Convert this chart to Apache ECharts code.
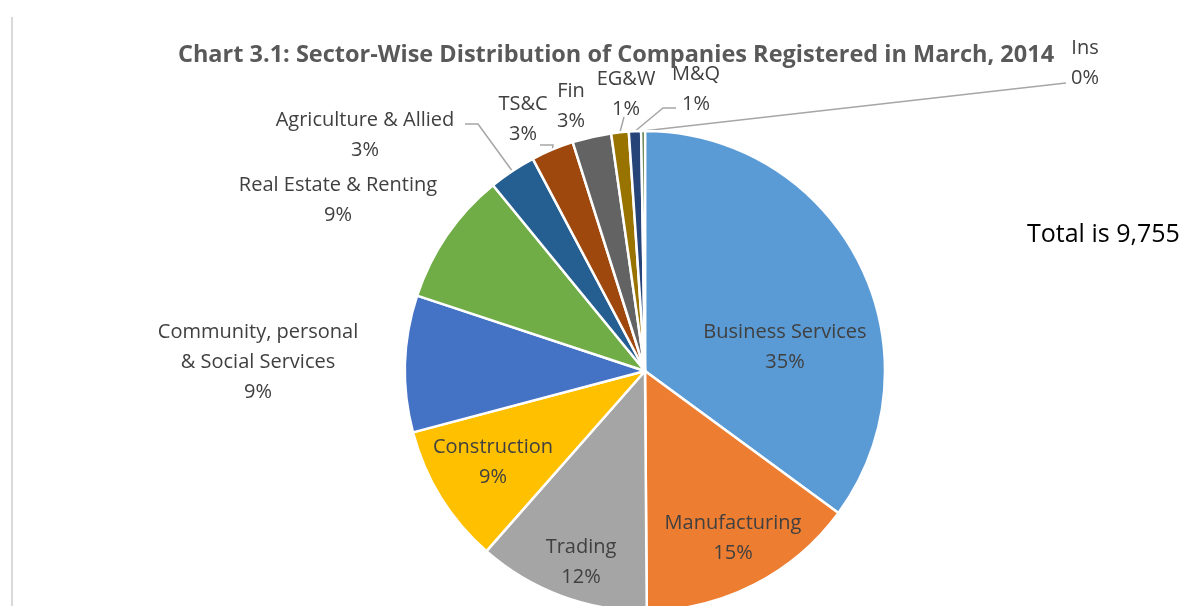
<!DOCTYPE html>
<html>
<head>
<meta charset="utf-8">
<script src="https://cdn.jsdelivr.net/npm/echarts@6/dist/echarts.min.js"></script>
<style>
  html, body { margin: 0; padding: 0; background: #fff; }
  #main { width: 1200px; height: 606px; }
</style>
</head>
<body>
<div id="main"></div>
<script>
const sectors = [
  'Business Services', 'Manufacturing', 'Trading', 'Construction',
  'Community, personal\n& Social Services', 'Real Estate & Renting',
  'Agriculture & Allied', 'TS&C', 'Fin', 'EG&W', 'M&Q', 'Ins'
];
const companies = [3422, 1444, 1132, 917, 897, 878, 310, 280, 255, 115, 80, 25];
const sliceColors = [
  '#5B9BD5', '#ED7D31', '#A5A5A5', '#FFC000', '#4472C4', '#70AD47',
  '#255E91', '#9E480E', '#636363', '#997300', '#264478', '#43682B'
];

const pieCenter = [645, 371];
const pieRadius = 240;

// where each label block sits (centre of text)
const labelSpots = [
  [785, 347], [733, 538], [581, 562], [493, 462], [258, 362], [338, 200],
  [365, 135], [523, 119], [571, 106], [626, 94], [696, 89], [1085, 63]
];
// elbow points of the leader lines, from slice side to label side
const leaderBends = {
  6: [[478, 124], [465, 124]],
  7: [[553, 145], [540, 145]],
  9: [[624, 117]],
  10: [[663, 108], [676, 108]],
  11: [[1066, 83]]
};

const total = companies.reduce((a, b) => a + b, 0);

function sliceEdge(idx) {
  let before = 0;
  for (let i = 0; i < idx; i++) before += companies[i];
  const mid = (before + companies[idx] / 2) / total * Math.PI * 2;
  return [pieCenter[0] + Math.sin(mid) * pieRadius, pieCenter[1] - Math.cos(mid) * pieRadius];
}

const insideSet = [0, 1, 2, 3];

const chart = echarts.init(document.getElementById('main'));

chart.setOption({
  backgroundColor: '#fff',
  animation: false,
  title: {
    text: 'Chart 3.1: Sector-Wise Distribution of Companies Registered in March, 2014',
    left: 611,
    top: 38,
    textAlign: 'center',
    textStyle: { fontFamily: 'Open Sans', fontWeight: 'bold', fontSize: 23.5, color: '#595959' }
  },
  graphic: [
    {
      type: 'line',
      shape: { x1: 12, y1: 17, x2: 12, y2: 606 },
      style: { stroke: '#d9d9d9', lineWidth: 2 }
    },
    {
      type: 'text',
      left: 1027,
      top: 222,
      style: { text: 'Total is 9,755', font: '25px "Open Sans"', fill: '#000' }
    }
  ],
  series: [{
    type: 'pie',
    center: pieCenter,
    radius: pieRadius,
    startAngle: 90,
    clockwise: true,
    avoidLabelOverlap: false,
    itemStyle: { borderColor: '#fff', borderWidth: 2.5 },
    label: {
      fontFamily: 'Open Sans',
      fontSize: 20,
      lineHeight: 30,
      color: '#404040',
      align: 'center',
      formatter: p => p.name + '\n' + Math.round(p.percent) + '%'
    },
    labelLine: { lineStyle: { color: '#a6a6a6', width: 1.5 } },
    labelLayout: function (params) {
      const i = params.dataIndex;
      const out = {
        x: labelSpots[i][0],
        y: labelSpots[i][1],
        align: 'center',
        verticalAlign: 'middle'
      };
      if (leaderBends[i]) {
        out.labelLinePoints = [sliceEdge(i)].concat(leaderBends[i]);
      }
      return out;
    },
    data: sectors.map((name, i) => ({
      name: name,
      value: companies[i],
      itemStyle: { color: sliceColors[i] },
      label: { position: insideSet.includes(i) ? 'inside' : 'outside' },
      labelLine: { show: !!leaderBends[i] }
    }))
  }]
});
</script>
</body>
</html>
